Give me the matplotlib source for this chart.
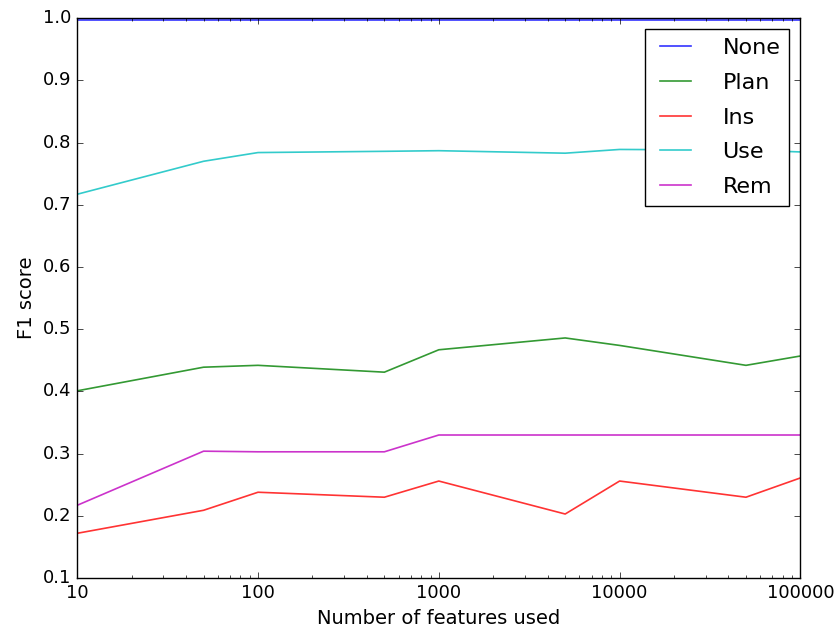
import matplotlib
matplotlib.use("Agg")
import matplotlib.pyplot as plt
from matplotlib.ticker import FixedLocator, FuncFormatter

plt.style.use("classic")

# number of features kept for each run
n_features = [10, 50, 100, 500, 1000, 5000, 10000, 50000, 100000]

# F1 score per class
f1_none = [0.997, 0.997, 0.997, 0.997, 0.997, 0.997, 0.997, 0.997, 0.997]
f1_plan = [0.401, 0.439, 0.442, 0.431, 0.467, 0.486, 0.474, 0.442, 0.457]
f1_ins = [0.172, 0.209, 0.238, 0.230, 0.256, 0.203, 0.256, 0.230, 0.261]
f1_use = [0.717, 0.770, 0.784, 0.786, 0.787, 0.783, 0.789, 0.788, 0.785]
f1_rem = [0.217, 0.304, 0.303, 0.303, 0.330, 0.330, 0.330, 0.330, 0.330]

fig = plt.figure(figsize=(8.39, 6.27), dpi=100, facecolor="white")
ax = fig.add_axes([0.092, 0.078, 0.862, 0.893])

lw = 1.2
ax.plot(n_features, f1_none, "b", lw=lw, alpha=0.8, label="None")
ax.plot(n_features, f1_plan, "g", lw=lw, alpha=0.8, label="Plan")
ax.plot(n_features, f1_ins, "r", lw=lw, alpha=0.8, label="Ins")
ax.plot(n_features, f1_use, "c", lw=lw, alpha=0.8, label="Use")
ax.plot(n_features, f1_rem, "m", lw=lw, alpha=0.8, label="Rem")

ax.set_xscale("log")
ax.set_xlim(10, 100000)
ax.set_ylim(0.1, 1.0)
ax.xaxis.set_major_locator(FixedLocator([10, 100, 1000, 10000, 100000]))
ax.xaxis.set_major_formatter(FuncFormatter(lambda v, p: "%d" % v))
ax.tick_params(labelsize=13)
ax.set_xlabel("Number of features used", fontsize=14)
ax.set_ylabel("F1 score", fontsize=14)

ax.legend(loc="upper right", fontsize=16, handlelength=2.0,
          handletextpad=1.1, labelspacing=0.66, borderaxespad=0.5)

fig.savefig("out.png", dpi=100, facecolor="white")
